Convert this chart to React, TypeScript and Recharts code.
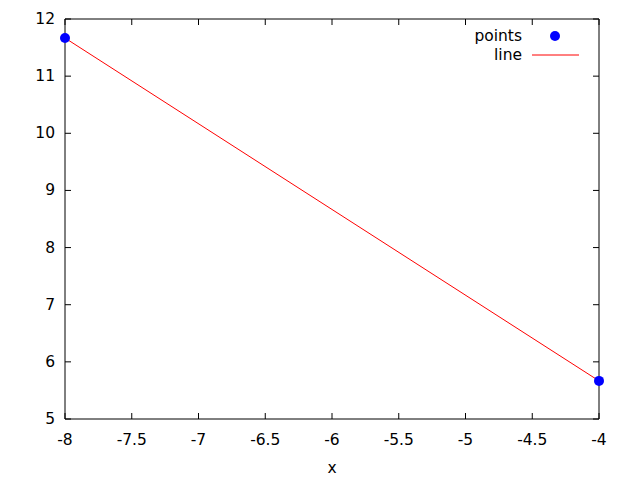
import React from "react";
import { ComposedChart, Line, XAxis, YAxis, ReferenceArea } from "recharts";

const xValues = [-8, -4];
const pointValues = [11.667, 5.667];
const lineValues = [11.667, 5.667];
const xTicks = [-8, -7.5, -7, -6.5, -6, -5.5, -5, -4.5, -4];
const yTicks = [5, 6, 7, 8, 9, 10, 11, 12];

const data = xValues.map((x, i) => ({ x, points: pointValues[i], line: lineValues[i] }));

const W = 640;
const H = 480;
const M = { top: 19, right: 41, bottom: 0, left: 0 };
const XAXIS_H = 61;
const YAXIS_W = 65;
const PW = W - YAXIS_W - M.right;
const PH = H - M.top - XAXIS_H;
const FONT = "DejaVu Sans, sans-serif";
const FS = 15.5;

const XTick = (props: any) => {
  const { x, y, payload } = props;
  return (
    <g>
      <line x1={x} y1={y} x2={x} y2={y - 6} stroke="#000" />
      <line x1={x} y1={y - PH} x2={x} y2={y - PH + 6} stroke="#000" />
      <text x={x} y={y + 21} textAnchor="middle" dominantBaseline="central" fontFamily={FONT} fontSize={FS} fill="#000">
        {String(payload.value)}
      </text>
    </g>
  );
};

const YTick = (props: any) => {
  const { x, y, payload } = props;
  return (
    <g>
      <line x1={x} y1={y} x2={x + 6} y2={y} stroke="#000" />
      <line x1={x + PW} y1={y} x2={x + PW - 6} y2={y} stroke="#000" />
      <text x={x - 10} y={y} textAnchor="end" dominantBaseline="central" fontFamily={FONT} fontSize={FS} fill="#000">
        {String(payload.value)}
      </text>
    </g>
  );
};

export default function App() {
  return (
    <div style={{ position: "absolute", left: 0, top: 0, width: W, height: H, background: "#fff" }}>
      <ComposedChart width={W} height={H} data={data} margin={M}>
        <XAxis
          dataKey="x"
          type="number"
          domain={[-8, -4]}
          ticks={xTicks}
          height={XAXIS_H}
          tickSize={0}
          tickMargin={0}
          tickLine={false}
          axisLine={false}
          tick={<XTick />}
          interval={0}
          allowDataOverflow
          label={{ value: "x", position: "insideBottom", offset: 7, fontFamily: FONT, fontSize: FS, fill: "#000" }}
        />
        <YAxis
          type="number"
          domain={[5, 12]}
          ticks={yTicks}
          width={YAXIS_W}
          tickSize={0}
          tickMargin={0}
          tickLine={false}
          axisLine={false}
          tick={<YTick />}
          interval={0}
          allowDataOverflow
        />
        <ReferenceArea x1={-8} x2={-4} y1={5} y2={12} fill="none" stroke="#000" strokeWidth={1} fillOpacity={0} />
        <Line
          dataKey="points"
          stroke="none"
          isAnimationActive={false}
          dot={{ r: 5, fill: "#0000ff", stroke: "none", clipDot: false }}
          activeDot={false}
        />
        <Line dataKey="line" stroke="#ff0000" strokeWidth={1} dot={false} activeDot={false} isAnimationActive={false} />
        <g>
          <text x={522} y={36} textAnchor="end" dominantBaseline="central" fontFamily={FONT} fontSize={FS} fill="#000">
            points
          </text>
          <circle cx={555} cy={36} r={5} fill="#0000ff" />
          <text x={522} y={55} textAnchor="end" dominantBaseline="central" fontFamily={FONT} fontSize={FS} fill="#000">
            line
          </text>
          <line x1={532} y1={55} x2={579} y2={55} stroke="#ff0000" strokeWidth={1} />
        </g>
      </ComposedChart>
    </div>
  );
}
